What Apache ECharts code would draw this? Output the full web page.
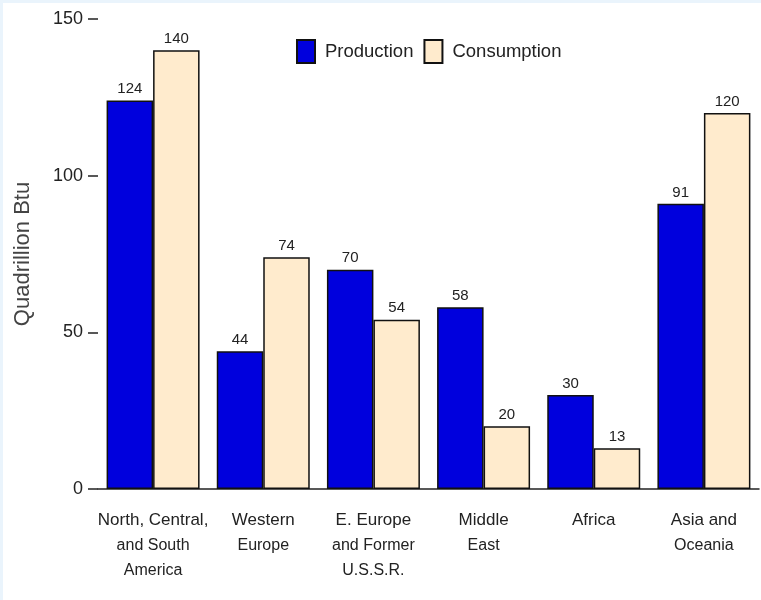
<!DOCTYPE html>
<html>
<head>
<meta charset="utf-8">
<script src="https://cdn.jsdelivr.net/npm/echarts@6/dist/echarts.min.js"></script>
<style>
  html, body { margin: 0; padding: 0; }
  #chart {
    width: 761px; height: 600px;
    background: linear-gradient(#ffffff, #ffffff) no-repeat 3px 3px / 758px 597px, #eaf4fc;
  }
</style>
</head>
<body>
<div id="chart"></div>
<script>
// World energy by region, quadrillion Btu
const regions = [
  ['North, Central,', 'and South', 'America'],
  ['Western', 'Europe'],
  ['E. Europe', 'and Former', 'U.S.S.R.'],
  ['Middle', 'East'],
  ['Africa'],
  ['Asia and', 'Oceania']
];
const production = [124, 44, 70, 58, 30, 91];
const consumption = [140, 74, 54, 20, 13, 120];
const yTicks = [0, 50, 100, 150];

const sans = "'Liberation Sans', Arimo, Arial, Helvetica, sans-serif";
const categories = regions.map(r => r.join('\n'));

const chart = echarts.init(document.getElementById('chart'));

const barLabel = {
  show: true,
  position: 'top',
  distance: 4,
  fontFamily: sans,
  fontSize: 15,
  color: '#222'
};

chart.setOption({
  backgroundColor: 'transparent',
  animation: false,
  grid: { left: 98, right: 2, top: 19, bottom: 111, containLabel: false, outerBoundsMode: 'none' },
  legend: {
    left: 296,
    top: 39,
    padding: 0,
    itemWidth: 18,
    itemHeight: 23,
    itemGap: 10,
    icon: 'rect',
    textStyle: { fontFamily: sans, fontSize: 18.5, color: '#222', padding: [0, 0, 0, 5] },
    data: ['Production', 'Consumption']
  },
  xAxis: {
    type: 'category',
    data: categories,
    boundaryGap: true,
    axisLine: { lineStyle: { color: '#222', width: 1.5 } },
    axisTick: { show: false },
    axisLabel: {
      interval: 0,
      margin: 19,
      formatter: function (v) {
        const lines = v.split('\n');
        return lines.map((l, i) => (i === 0 ? '{a|' + l + '}' : '{b|' + l + '}')).join('\n');
      },
      rich: {
        a: { fontFamily: sans, fontSize: 17, color: '#222', lineHeight: 25 },
        b: { fontFamily: sans, fontSize: 16, color: '#222', lineHeight: 25 }
      }
    }
  },
  yAxis: {
    type: 'value',
    min: yTicks[0],
    max: yTicks[yTicks.length - 1],
    interval: 50,
    name: 'Quadrillion Btu',
    nameLocation: 'middle',
    nameRotate: 90,
    nameGap: 64,
    nameTextStyle: { fontFamily: sans, fontSize: 22, color: '#444' },
    axisLine: { show: false },
    axisTick: { show: true, inside: false, length: 10, lineStyle: { color: '#222', width: 1.5 } },
    splitLine: { show: false },
    axisLabel: { margin: 15, fontFamily: sans, fontSize: 18, color: '#222' }
  },
  series: [
    {
      name: 'Production',
      type: 'bar',
      data: production,
      barGap: '0%',
      barCategoryGap: '15.6%',
      itemStyle: { color: '#0000dd', borderColor: '#111', borderWidth: 1.5 },
      label: barLabel
    },
    {
      name: 'Consumption',
      type: 'bar',
      data: consumption,
      itemStyle: { color: '#ffebcd', borderColor: '#111', borderWidth: 1.5 },
      label: barLabel
    }
  ]
});
</script>
</body>
</html>
